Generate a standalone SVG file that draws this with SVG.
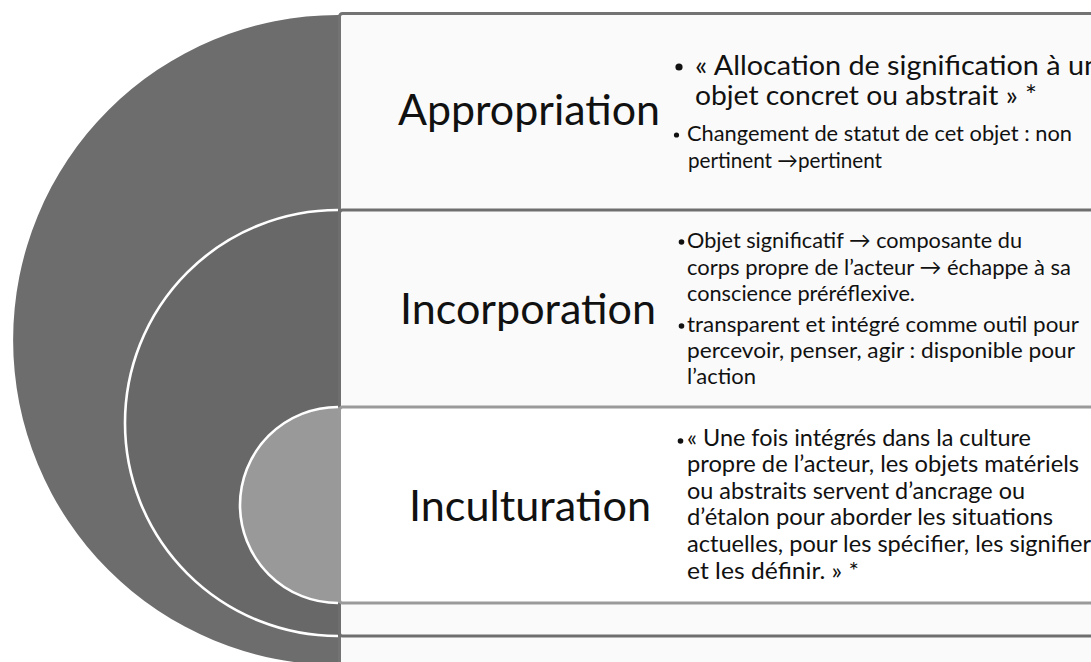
<svg xmlns="http://www.w3.org/2000/svg" width="1091" height="662" viewBox="0 0 1091 662">
<style>
  text { font-family: Lato, "Open Sans", sans-serif; fill: #111; }
  .title { font-size: 42px; }
  .b1 { font-size: 27px; }
  .b2 { font-size: 21.5px; }
  .r2 { font-size: 22px; }
  .r3 { font-size: 23px; }
  .ring { stroke: #ffffff; stroke-width: 2.6; fill: none; }
  .box { stroke-width: 3; }
  .dot { fill: #111; }
</style>
<rect width="1091" height="662" fill="#ffffff"/>

<g id="appropriation">
  <path d="M341,15 L338,15 A325,325 0 0 0 338,665 L341,665 Z" fill="#6d6d6d"/>
  <rect class="box" x="339.5" y="13.5" width="780" height="680" rx="3" fill="#fafafa" stroke="#737373"/>
  <text class="title" x="398" y="125" textLength="262" lengthAdjust="spacingAndGlyphs">Appropriation</text>
  <circle class="dot" cx="679" cy="67" r="3.6"/>
  <text class="b1" x="695" y="75" textLength="405" lengthAdjust="spacingAndGlyphs">« Allocation de signification à un</text>
  <text class="b1" x="695" y="105" textLength="342" lengthAdjust="spacingAndGlyphs">objet concret ou abstrait » *</text>
  <circle class="dot" cx="676.5" cy="135" r="2.6"/>
  <text class="b2" x="687" y="141" textLength="385" lengthAdjust="spacingAndGlyphs">Changement de statut de cet objet : non</text>
  <text class="b2" x="688" y="168" textLength="194" lengthAdjust="spacingAndGlyphs">pertinent →pertinent</text>
</g>

<g id="incorporation">
  <path d="M341,210 L338,210 A213,213 0 0 0 338,636 L341,636 Z" fill="#686868"/>
  <path class="ring" d="M338,210 A213,213 0 0 0 338,636"/>
  <rect class="box" x="339.5" y="210" width="780" height="426" rx="3" fill="#fafafa" stroke="#6e6e6e"/>
  <text class="title" x="400" y="324" textLength="256" lengthAdjust="spacingAndGlyphs">Incorporation</text>
  <circle class="dot" cx="681.5" cy="242" r="2.8"/>
  <text class="r2" x="687" y="248" textLength="335" lengthAdjust="spacingAndGlyphs">Objet significatif → composante du</text>
  <text class="r2" x="687" y="275" textLength="384" lengthAdjust="spacingAndGlyphs">corps propre de l’acteur → échappe à sa</text>
  <text class="r2" x="687" y="301" textLength="228" lengthAdjust="spacingAndGlyphs">conscience  préréflexive.</text>
  <circle class="dot" cx="681.5" cy="326" r="2.8"/>
  <text class="r2" x="687" y="332" textLength="392" lengthAdjust="spacingAndGlyphs">transparent et intégré comme outil pour</text>
  <text class="r2" x="687" y="358" textLength="388" lengthAdjust="spacingAndGlyphs">percevoir, penser, agir : disponible pour</text>
  <text class="r2" x="687" y="384" textLength="69" lengthAdjust="spacingAndGlyphs">l’action</text>
</g>

<g id="inculturation">
  <path d="M341,407 L338,407 A98,98 0 0 0 338,603 L341,603 Z" fill="#999999"/>
  <path class="ring" d="M338,407 A98,98 0 0 0 338,603"/>
  <rect class="box" x="339.5" y="407" width="780" height="196" rx="3" fill="#ffffff" stroke="#9a9a9a"/>
  <text class="title" x="409" y="521" textLength="242" lengthAdjust="spacingAndGlyphs">Inculturation</text>
  <circle class="dot" cx="680.5" cy="441" r="2.8"/>
  <text class="r3" x="687" y="446" textLength="344" lengthAdjust="spacingAndGlyphs">« Une fois intégrés dans la culture</text>
  <text class="r3" x="687" y="472" textLength="392" lengthAdjust="spacingAndGlyphs">propre de l’acteur, les objets matériels</text>
  <text class="r3" x="687" y="499" textLength="338" lengthAdjust="spacingAndGlyphs">ou abstraits servent d’ancrage ou</text>
  <text class="r3" x="687" y="525" textLength="366" lengthAdjust="spacingAndGlyphs">d’étalon pour aborder les situations</text>
  <text class="r3" x="687" y="552" textLength="404" lengthAdjust="spacingAndGlyphs">actuelles, pour les spécifier, les signifier</text>
  <text class="r3" x="687" y="579" textLength="172" lengthAdjust="spacingAndGlyphs">et les définir.  » *</text>
</g>

<g id="connectors"></g>
</svg>
